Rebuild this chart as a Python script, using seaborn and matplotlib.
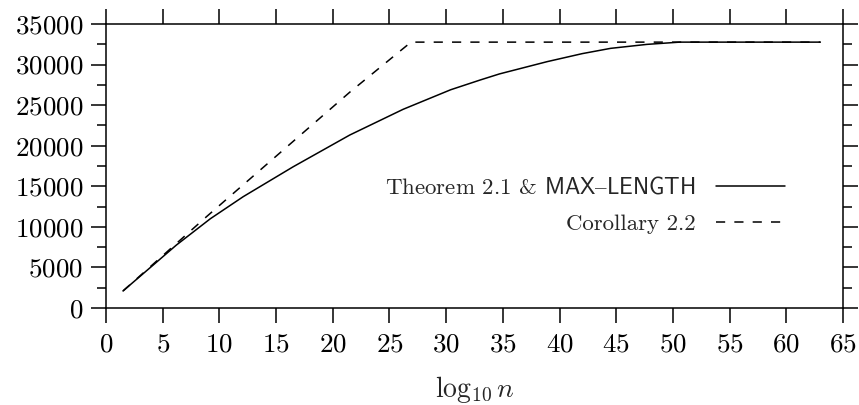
import numpy as np
import pandas as pd
import seaborn as sns
import matplotlib.pyplot as plt
from matplotlib.ticker import MultipleLocator

# values
theorem_x = [1.5, 4.0, 6.2, 9.2, 12.1, 16.5, 21.5, 26.2, 30.4, 33.0, 34.7, 38.9, 42.0, 44.5, 47.7, 50.6, 63]
theorem_y = [2100, 5100, 7750, 11000, 13720, 17400, 21320, 24485, 26900, 28100, 28850, 30360, 31350, 32000, 32490, 32768, 32768]
corollary_x = [1.5, 8.9, 21.5, 26.9, 63]
corollary_y = [2100, 11300, 26600, 32768, 32768]

theorem_label = r'Theorem 2.1 & $\mathsf{MAX–LENGTH}$'
corollary_label = 'Corollary 2.2'

sns.set_style('ticks')
plt.rcParams['font.family'] = ['cmr10', 'DejaVu Serif']
plt.rcParams['mathtext.fontset'] = 'cm'
plt.rcParams['axes.formatter.use_mathtext'] = True

fig = plt.figure(figsize=(8.59, 4.05), dpi=100)
ax = fig.add_axes([0.1234, 0.2395, 0.858, 0.7012])

theorem = pd.DataFrame({'x': theorem_x, 'y': theorem_y})
corollary = pd.DataFrame({'x': corollary_x, 'y': corollary_y})

sns.lineplot(data=theorem, x='x', y='y', ax=ax, color='black', lw=1.1,
             label=theorem_label, sort=False)
sns.lineplot(data=corollary, x='x', y='y', ax=ax, color='black', lw=1.1,
             linestyle=(0, (6, 6)), label=corollary_label, sort=False)

ax.set_xlim(0, 65)
ax.set_ylim(0, 35000)
ax.xaxis.set_major_locator(MultipleLocator(5))
ax.yaxis.set_major_locator(MultipleLocator(5000))
ax.yaxis.set_minor_locator(MultipleLocator(2500))
ax.tick_params(which='both', direction='out', top=True, right=True,
               labelsize=19.5, width=1.1, color='black', labelcolor='black')
ax.tick_params(which='major', length=10.5)
ax.tick_params(which='minor', length=6.5)
ax.tick_params(axis='x', pad=7)
ax.tick_params(axis='y', pad=6)
for s in ax.spines.values():
    s.set_linewidth(1.1)
    s.set_color('black')

ax.set_xlabel(r'$\log_{10} n$', fontsize=20, labelpad=13)
ax.set_ylabel('')

ax.legend(loc='center right', bbox_to_anchor=(0.921, 0.363), frameon=False,
          markerfirst=False, fontsize=16.5, handlelength=3.0, handletextpad=0.9,
          borderpad=0, borderaxespad=0, labelspacing=0.72)

fig.savefig('out.png', dpi=100)
